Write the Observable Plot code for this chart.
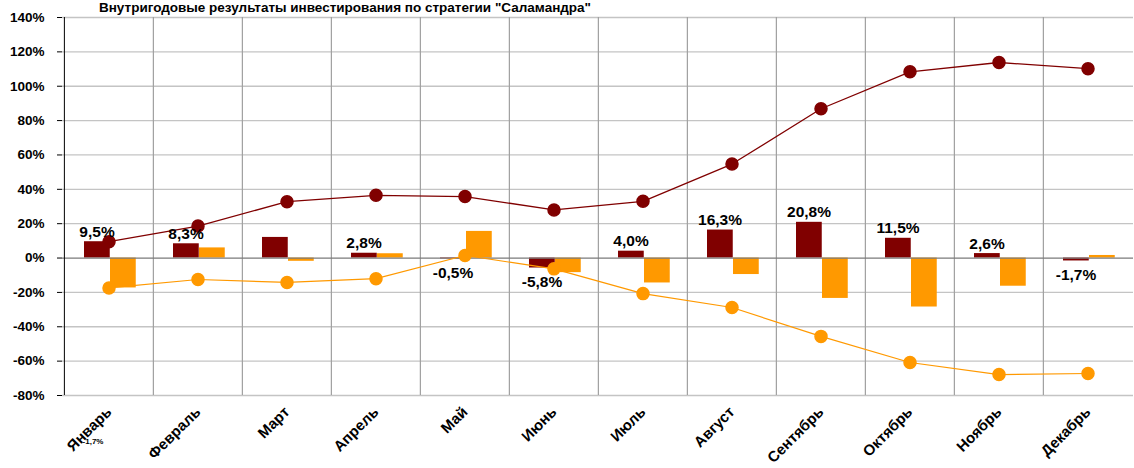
<!DOCTYPE html>
<html><head><meta charset="utf-8">
<script src="https://cdn.jsdelivr.net/npm/d3@7"></script>
<script src="https://cdn.jsdelivr.net/npm/@observablehq/plot@0.6"></script>
<style>
body{margin:0;background:#fff;font-family:"Liberation Sans",Arial,sans-serif;}
#wrap{position:relative;width:1134px;height:468px;overflow:hidden;}
#title{position:absolute;left:0;width:690px;text-align:center;top:0px;font:bold 13.5px "Liberation Sans",Arial,sans-serif;line-height:15px;color:#000;}
</style></head>
<body><div id="wrap"><div id="chart"></div><div id="title">Внутригодовые результаты инвестирования по стратегии "Саламандра"</div></div>
<script>
const months = ["Январь","Февраль","Март","Апрель","Май","Июнь","Июль","Август","Сентябрь","Октябрь","Ноябрь","Декабрь"];
const strategyMonthly = [9.5, 8.3, 12.0, 2.8, -0.5, -5.8, 4.0, 16.3, 20.8, 11.5, 2.6, -1.7];
const strategyLabels = ["9,5%","8,3%",null,"2,8%","-0,5%","-5,8%","4,0%","16,3%","20,8%","11,5%","2,6%","-1,7%"];
const indexMonthly = [-17.4, 5.9, -1.9, 2.5, 15.5, -8.5, -14.5, -9.6, -23.5, -28.5, -16.4, 1.5];
const strategyCumulative = [9.5, 18.6, 32.8, 36.5, 35.8, 28.0, 33.0, 54.7, 86.9, 108.4, 113.8, 110.2];
const indexCumulative = [-17.4, -12.5, -14.2, -12.0, 1.5, -6.3, -20.7, -28.8, -45.6, -60.8, -67.8, -67.2];
const yTicks = [-80,-60,-40,-20,0,20,40,60,80,100,120,140];

const W = 1134, H = 468, mL = 62, mR = 1, mT = 17, mB = 73;
const bw = (W - mL - mR) / months.length;
const dark = "#800000", orange = "#FF9900";
const rows = months.map((m,i)=>({m, s:strategyMonthly[i], ix:indexMonthly[i], sc:strategyCumulative[i], ic:indexCumulative[i], lab:strategyLabels[i]}));
const pos = rows.filter(d=>d.lab && d.s>=0), neg = rows.filter(d=>d.lab && d.s<0);
const font = {fontFamily:"Liberation Sans, Arial, sans-serif", fontWeight:"bold"};

const chart = Plot.plot({
  width: W, height: H,
  marginLeft: mL, marginRight: mR, marginTop: mT, marginBottom: mB,
  style: {fontFamily:"Liberation Sans, Arial, sans-serif", fontSize:"14px", fontWeight:"bold", color:"#000", background:"#fff"},
  x: {type:"band", domain: months, padding: 0, label: null},
  y: {domain:[-80,140], ticks: yTicks, label: null},
  marks: [
    Plot.ruleY(yTicks.filter(t=>t!==0), {stroke:"#c4c4c4", strokeWidth:1.3, strokeOpacity:1}),
    Plot.ruleX(months.slice(1), {dx:-bw/2, stroke:"#a0a0a0", strokeWidth:1.2, strokeOpacity:1}),
    Plot.barY(rows, {x:"m", y:"s", fill:dark, insetLeft:20, insetRight:bw-46}),
    Plot.barY(rows, {x:"m", y:"ix", fill:orange, insetLeft:46, insetRight:bw-72}),
    Plot.ruleY([0], {stroke:"#7a7a7a", strokeWidth:1.3}),
    Plot.ruleX([months[0]], {dx:-bw/2, stroke:"#000", strokeWidth:1}),
    Plot.lineY(rows, {x:"m", y:"ic", stroke:orange, strokeWidth:1.2}),
    Plot.dot(rows, {x:"m", y:"ic", r:6, fill:orange, stroke:orange}),
    Plot.lineY(rows, {x:"m", y:"sc", stroke:dark, strokeWidth:1.3}),
    Plot.dot(rows, {x:"m", y:"sc", r:6, fill:dark, stroke:dark}),
    Plot.text(pos, {x:"m", y:"s", text:"lab", dx:-12, dy:-10, fontSize:15.5, ...font, fill:"#000"}),
    Plot.text(neg, {x:"m", y:"s", text:"lab", dx:-12, dy:14, fontSize:15.5, ...font, fill:"#000"}),
    Plot.text([{m:months[0], y:-80, t:"-1,7%"}], {x:"m", y:"y", text:"t", dx:-16, dy:46, fontSize:8, ...font, fill:"#000"}),
    Plot.axisY({ticks:yTicks, tickFormat:d=>d+"%", tickSize:5, tickPadding:13, fontSize:13.5, fontWeight:"bold", label:null}),
    Plot.axisX({tickSize:0, tickRotate:-45, tickPadding:14, fontSize:15, fontWeight:"bold", label:null})
  ]
});
document.getElementById("chart").appendChild(chart);
</script></body></html>
